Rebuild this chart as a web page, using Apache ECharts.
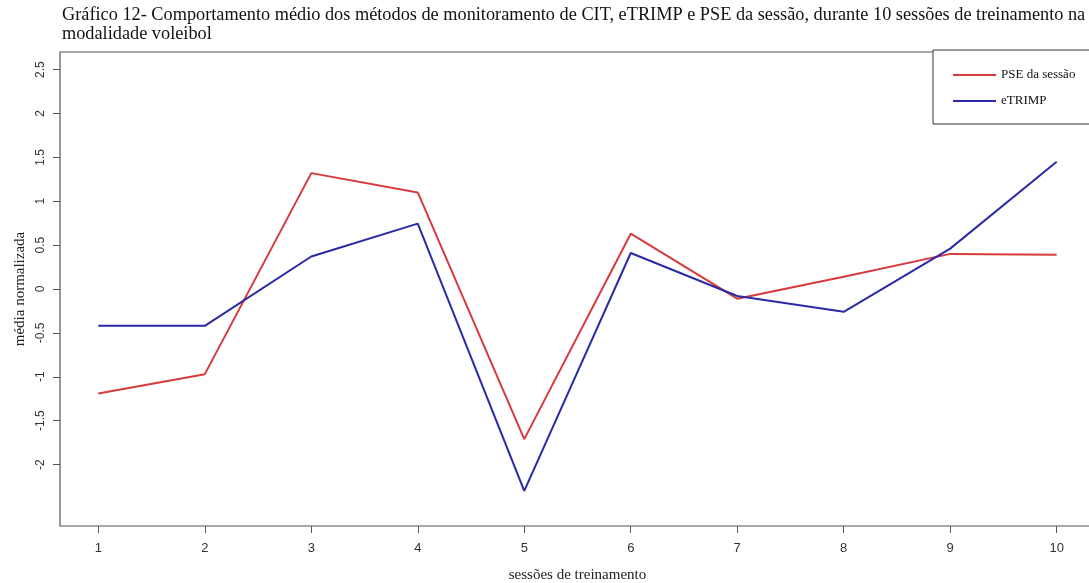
<!DOCTYPE html>
<html>
<head>
<meta charset="utf-8">
<script src="https://cdn.jsdelivr.net/npm/echarts@6/dist/echarts.min.js"></script>
<style>
  html, body { margin: 0; padding: 0; background: #ffffff; }
  #chart { width: 1089px; height: 583px; }
</style>
</head>
<body>
<div id="chart"></div>
<script>
// Sessions on the x axis
const sessoes = [1, 2, 3, 4, 5, 6, 7, 8, 9, 10];
// Normalised mean per session
const pseSessao = [-1.19, -0.97, 1.32, 1.10, -1.71, 0.63, -0.11, 0.14, 0.40, 0.39];
const eTRIMP = [-0.42, -0.42, 0.37, 0.745, -2.30, 0.41, -0.08, -0.26, 0.46, 1.45];
// Tick labels
const yTicks = [-2, -1.5, -1, -0.5, 0, 0.5, 1, 1.5, 2, 2.5];
const xTicks = sessoes;

const pairs = (xs, ys) => xs.map((x, i) => [x, ys[i]]);

const serif = 'Liberation Serif';
const sans = 'Liberation Sans';

const chart = echarts.init(document.getElementById('chart'));
chart.setOption({
  animation: false,
  backgroundColor: '#ffffff',
  title: {
    text: 'Gráfico 12- Comportamento médio dos métodos de monitoramento de CIT, eTRIMP e PSE da sessão, durante 10 sessões de treinamento na\nmodalidade voleibol',
    left: 62,
    top: 6,
    padding: 0,
    textStyle: {
      fontFamily: serif,
      fontSize: 18.3,
      fontWeight: 'normal',
      color: '#111111',
      lineHeight: 19
    }
  },
  legend: {
    orient: 'vertical',
    left: 933,
    top: 50,
    padding: [18, 90, 16, 20],
    itemGap: 12,
    itemWidth: 43,
    itemHeight: 2,
    icon: 'rect',
    borderColor: '#333333',
    borderWidth: 1,
    backgroundColor: '#ffffff',
    textStyle: { fontFamily: serif, fontSize: 13, color: '#111111', lineHeight: 14 },
    data: ['PSE da sessão', 'eTRIMP']
  },
  grid: {
    left: 60,
    top: 52,
    right: -6,
    bottom: 57,
    outerBoundsMode: 'none',
    containLabel: false,
    show: true,
    borderColor: '#555555',
    borderWidth: 1.2,
    backgroundColor: 'transparent'
  },
  xAxis: {
    type: 'value',
    min: 0.64,
    max: 10.36,
    name: 'sessões de treinamento',
    nameLocation: 'middle',
    nameGap: 42,
    nameTextStyle: { fontFamily: serif, fontSize: 15, color: '#222222' },
    axisLine: { show: false, onZero: false },
    splitLine: { show: false },
    axisTick: {
      show: true,
      customValues: xTicks,
      length: 7,
      lineStyle: { color: '#555555', width: 1 }
    },
    axisLabel: {
      customValues: xTicks,
      margin: 16,
      fontFamily: sans,
      fontSize: 13,
      color: '#333333'
    }
  },
  yAxis: {
    type: 'value',
    min: -2.7,
    max: 2.7,
    name: 'média normalizada',
    nameLocation: 'middle',
    nameGap: 32,
    nameRotate: 90,
    nameTextStyle: { fontFamily: serif, fontSize: 15, color: '#222222' },
    axisLine: { show: false, onZero: false },
    splitLine: { show: false },
    axisTick: {
      show: true,
      customValues: yTicks,
      length: 7,
      lineStyle: { color: '#555555', width: 1 }
    },
    axisLabel: {
      customValues: yTicks,
      rotate: 90,
      margin: 13,
      fontFamily: sans,
      fontSize: 12,
      color: '#333333'
    }
  },
  series: [
    {
      name: 'PSE da sessão',
      type: 'line',
      data: pairs(sessoes, pseSessao),
      showSymbol: false,
      symbol: 'none',
      color: '#d63a3c',
      lineStyle: { color: '#d63a3c', width: 2 }
    },
    {
      name: 'eTRIMP',
      type: 'line',
      data: pairs(sessoes, eTRIMP),
      showSymbol: false,
      symbol: 'none',
      color: '#2a2aa6',
      lineStyle: { color: '#2a2aa6', width: 2 }
    }
  ]
});
</script>
</body>
</html>
